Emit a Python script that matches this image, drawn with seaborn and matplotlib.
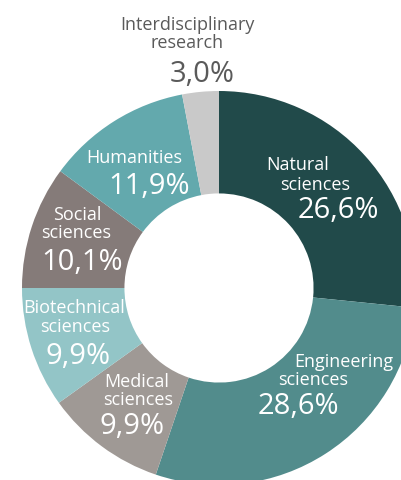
import matplotlib
matplotlib.use("Agg")
import matplotlib.pyplot as plt
import seaborn as sns

# data
fields = ["Natural\nsciences", "Engineering\nsciences", "Medical\nsciences",
          "Biotechnical\nsciences", "Social\nsciences", "Humanities",
          "Interdisciplinary\nresearch"]
shares = [26.6, 28.6, 9.9, 9.9, 10.1, 11.9, 3.0]
colors = ["#214a4a", "#528c8c", "#9f9995", "#93c5c7", "#857b79", "#63a9ad", "#c9c9c9"]

sns.set_theme(style="white")
plt.rcParams["font.family"] = ["Open Sans", "DejaVu Sans"]

W, H = 401, 481
fig = plt.figure(figsize=(W / 100, H / 100), dpi=100)
ax = fig.add_axes([0, 0, 1, 1])

# donut centre (px) and outer radius (px)
cx, cy, R = 219, 289, 197
ax.pie(shares, colors=colors, startangle=90, counterclock=False,
       radius=1, wedgeprops=dict(width=0.52, linewidth=0))
ax.set_aspect("auto")
ax.set_xlim(-cx / R, (W - cx) / R)
ax.set_ylim(-(H - cy) / R, cy / R)
ax.axis("off")

def px(x, y):
    return x / W, 1 - y / H

# label layout: (name line centres), (value centre), text colour
layout = [
    ([(298, 165), (315, 185)], (338, 211), "white"),
    ([(344, 362), (313, 380)], (298, 407), "white"),
    ([(137, 382), (138, 400)], (132, 427), "white"),
    ([(74, 308), (75, 327)], (78, 356), "white"),
    ([(77, 215), (76, 233)], (82, 262), "white"),
    ([(134, 158)], (149, 187), "white"),
    ([(187, 25), (187, 43)], (202, 74), "#5a5a5a"),
]

for name, val, (lines, vpos, c) in zip(fields, shares, layout):
    for part, (x, y) in zip(name.split("\n"), lines):
        fig.text(*px(x, y), part, ha="center", va="center", color=c, fontsize=13)
    label = f"{val:.1f}%".replace(".", ",")
    fig.text(*px(*vpos), label, ha="center", va="center", color=c, fontsize=21)

fig.savefig("out.png", dpi=100, facecolor="white")
